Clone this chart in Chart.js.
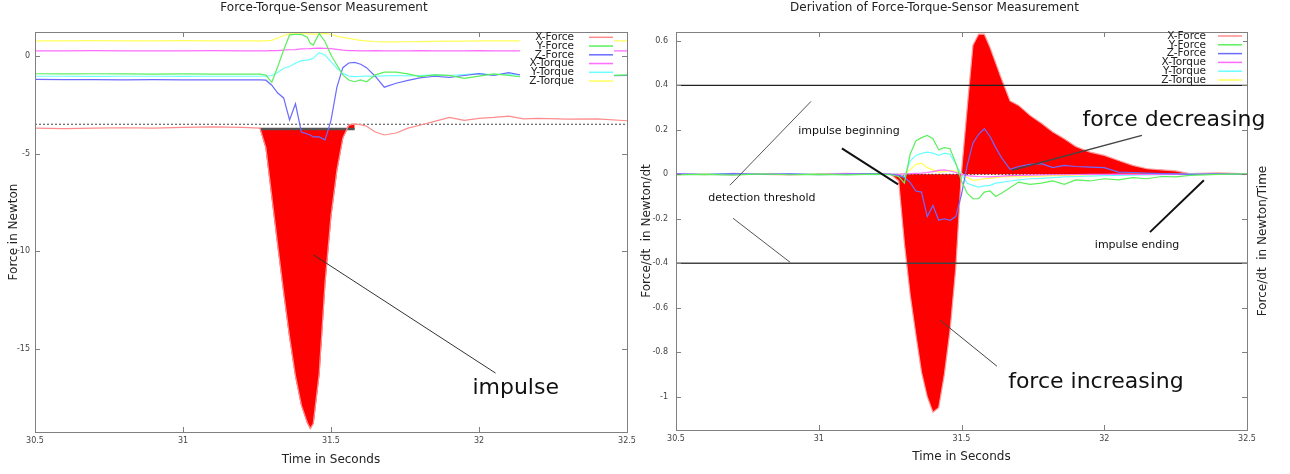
<!DOCTYPE html>
<html>
<head>
<meta charset="utf-8">
<script src="https://cdn.jsdelivr.net/npm/chart.js@4.4.1/dist/chart.umd.min.js"></script>
<style>
body { margin: 0; background: #fff; }
#wrap { position: relative; width: 1290px; height: 474px; }
canvas { position: absolute; top: 0; }
</style>
</head>
<body>
<div id="wrap">
<canvas id="left" width="640" height="474" style="left:0"></canvas>
<canvas id="right" width="650" height="474" style="left:640px"></canvas>
</div>
<script>
var seriesNames = ['X-Force', 'Y-Force', 'Z-Force', 'X-Torque', 'Y-Torque', 'Z-Torque'];
var seriesColors = ['#ff8c8c', '#5cf05c', '#6b6bff', '#ff6cff', '#6cffff', '#ffff5a'];

var xTicks = [30.5, 31, 31.5, 32, 32.5];
var yTicksLeft = [0, -5, -10, -15];
var yTicksRight = [0.6, 0.4, 0.2, 0, -0.2, -0.4, -0.6, -0.8, -1];

// raw sensor values (Newton)
var tLeft = [30.5, 30.6, 30.7, 30.8, 30.9, 31.0, 31.1, 31.2, 31.26, 31.28, 31.30, 31.32, 31.34, 31.36, 31.38, 31.40, 31.42, 31.43, 31.44,
  31.46, 31.48, 31.50, 31.52, 31.54, 31.56, 31.58, 31.60, 31.62, 31.65, 31.68, 31.72, 31.76, 31.80, 31.85, 31.90, 31.95, 32.0, 32.05,
  32.1, 32.15, 32.2, 32.3, 32.4, 32.5];
var xForce = [-3.70, -3.72, -3.70, -3.68, -3.70, -3.66, -3.63, -3.66, -3.70, -4.7, -7.2, -9.7, -12.1, -14.4, -16.4, -17.9, -18.8, -19.1, -18.85,
  -16.3, -11.6, -8.2, -5.85, -4.2, -3.55, -3.49, -3.52, -3.6, -3.9, -4.05, -3.95, -3.7, -3.55, -3.35, -3.15, -3.3, -3.2, -3.15,
  -3.08, -3.22, -3.2, -3.24, -3.22, -3.32];
var yForce = [-0.91, -0.92, -0.91, -0.92, -0.93, -0.92, -0.93, -0.93, -0.93, -0.98, -1.35, -0.55, 0.31, 1.08, 1.11, 1.11, 0.96, 0.65, 0.56,
  1.16, 0.73, 0.05, -0.46, -0.97, -1.23, -1.32, -1.23, -1.32, -0.97, -0.83, -0.83, -0.92, -1.06, -0.97, -0.99, -1.15, -1.03, -0.92,
  -0.99, -1.09, -1.03, -1.0, -1.02, -0.97];
var zForce = [-1.20, -1.21, -1.21, -1.22, -1.21, -1.22, -1.22, -1.22, -1.22, -1.24, -1.5, -1.9, -2.15, -3.28, -2.45, -3.9, -4.0, -4.05, -4.15,
  -4.15, -4.3, -3.3, -1.6, -0.6, -0.36, -0.33, -0.42, -0.6, -1.05, -1.6, -1.4, -1.25, -1.12, -1.04, -1.1, -1.0, -0.9, -1.0,
  -0.85, -1.0, -1.04, -1.0, -1.02, -1.0];
var xTorque = [0.26, 0.26, 0.27, 0.26, 0.26, 0.26, 0.27, 0.26, 0.26, 0.26, 0.27, 0.28, 0.30, 0.32, 0.33, 0.36, 0.37, 0.38, 0.39,
  0.40, 0.39, 0.38, 0.34, 0.30, 0.28, 0.27, 0.26, 0.26, 0.27, 0.26, 0.26, 0.26, 0.27, 0.26, 0.26, 0.26, 0.27, 0.26,
  0.26, 0.26, 0.27, 0.26, 0.26, 0.26];
var yTorque = [-1.04, -1.04, -1.05, -1.04, -1.04, -1.05, -1.04, -1.04, -1.04, -1.04, -1.0, -0.85, -0.63, -0.54, -0.37, -0.24, -0.21, -0.17, -0.12,
  0.17, 0.05, -0.29, -0.63, -0.89, -1.03, -1.06, -1.05, -1.03, -1.04, -1.02, -1.0, -1.02, -1.0, -0.97, -1.0, -0.95, -0.9, -0.97,
  -0.92, -1.0, -0.98, -1.0, -0.99, -1.0];
var zTorque = [0.78, 0.78, 0.79, 0.78, 0.78, 0.79, 0.78, 0.78, 0.78, 0.78, 0.80, 0.92, 1.05, 1.13, 1.14, 1.14, 1.14, 1.13, 1.12,
  1.12, 1.16, 1.10, 1.02, 0.95, 0.90, 0.85, 0.80, 0.77, 0.73, 0.72, 0.72, 0.73, 0.74, 0.75, 0.76, 0.76, 0.77, 0.77,
  0.78, 0.77, 0.78, 0.78, 0.78, 0.78];

var impulseStart = 31.26, impulseEnd = 31.58, impulseBase = -3.74, rawThreshold = -3.50;

// derivation (Newton/dt)
var tRight = [30.5, 30.6, 30.7, 30.8, 30.9, 31.0, 31.1, 31.2, 31.25, 31.28, 31.30, 31.32, 31.34, 31.36, 31.38, 31.40, 31.42, 31.44, 31.46,
  31.48, 31.50, 31.52, 31.54, 31.56, 31.58, 31.60, 31.62, 31.64, 31.67, 31.70, 31.74, 31.78, 31.82, 31.86, 31.90, 31.95, 32.0, 32.05,
  32.1, 32.15, 32.2, 32.25, 32.3, 32.4, 32.5];
var dxForce = [0.003, -0.002, 0.004, 0.0, -0.003, 0.002, 0.004, 0.0, 0.002, -0.03, -0.31, -0.54, -0.72, -0.89, -1.0, -1.07, -1.05, -0.9, -0.70,
  -0.42, 0.01, 0.30, 0.58, 0.63, 0.63, 0.57, 0.50, 0.43, 0.33, 0.31, 0.265, 0.23, 0.19, 0.16, 0.125, 0.10, 0.085, 0.062,
  0.04, 0.025, 0.02, 0.015, 0.003, 0.006, 0.002];
var dyForce = [-0.003, 0.0, -0.004, 0.002, -0.002, 0.0, -0.003, 0.001, -0.002, -0.01, -0.04, 0.09, 0.15, 0.165, 0.175, 0.16, 0.11, 0.12, 0.115,
  0.05, -0.03, -0.085, -0.11, -0.11, -0.08, -0.075, -0.1, -0.085, -0.06, -0.035, -0.045, -0.04, -0.03, -0.045, -0.025, -0.03, -0.02, -0.025,
  -0.015, -0.02, -0.01, -0.012, -0.005, 0.0, 0.002];
var dzForce = [0.002, -0.001, 0.003, 0.0, 0.002, -0.002, 0.001, 0.003, 0.0, -0.005, -0.015, -0.036, -0.075, -0.08, -0.19, -0.14, -0.207, -0.2, -0.207,
  -0.19, -0.09, 0.04, 0.14, 0.18, 0.205, 0.17, 0.12, 0.075, 0.022, 0.035, 0.045, 0.048, 0.03, 0.04, 0.035, 0.032, 0.03, 0.01,
  0.008, 0.005, 0.003, 0.002, 0.0, 0.002, 0.0];
var dxTorque = [0.001, 0.0, -0.002, 0.002, 0.0, -0.001, 0.002, 0.0, 0.001, 0.0, 0.002, 0.003, 0.004, 0.005, 0.008, 0.012, 0.018, 0.02, 0.015,
  0.008, 0.0, -0.006, -0.008, -0.01, -0.011, -0.012, -0.01, -0.008, -0.006, -0.005, -0.004, -0.003, -0.002, -0.002, -0.001, 0.0, 0.0, 0.001,
  0.0, 0.0, 0.001, 0.0, 0.0, 0.0, 0.0];
var dyTorque = [0.002, 0.0, 0.003, -0.001, 0.002, 0.0, 0.001, -0.002, 0.001, 0.0, -0.01, 0.06, 0.085, 0.094, 0.10, 0.095, 0.085, 0.095, 0.09,
  0.045, 0.0, -0.04, -0.05, -0.058, -0.052, -0.05, -0.04, -0.036, -0.03, -0.025, -0.02, -0.018, -0.015, -0.012, -0.01, -0.008, -0.006, -0.005,
  -0.004, -0.003, -0.002, 0.0, 0.001, 0.0, 0.0];
var dzTorque = [0.0, 0.001, -0.001, 0.0, 0.002, 0.0, -0.001, 0.001, 0.0, 0.0, 0.0, 0.02, 0.045, 0.05, 0.03, 0.02, 0.01, 0.012, 0.018,
  0.015, 0.005, -0.015, -0.027, -0.025, -0.02, -0.018, -0.015, -0.012, -0.01, -0.012, -0.01, -0.008, -0.006, -0.005, -0.004, -0.003, -0.002, -0.001,
  0.0, 0.0, 0.0, 0.0, 0.0, 0.0, 0.0];

var threshold = 0.4;

var tickFont = { family: 'DejaVu Sans', size: 8 };
var titleFont = { family: 'DejaVu Sans', size: 12 };

function pts(t, v) {
  return t.map(function (x, i) { return { x: x, y: v[i] }; });
}

function series(t, cols) {
  return cols.map(function (v, i) {
    return { label: seriesNames[i], data: pts(t, v), borderColor: seriesColors[i], borderWidth: 1.2,
      pointRadius: 0, fill: false, order: i + 1 };
  });
}

function hline(y, x0, x1, color, width, dash, order) {
  return { label: '', data: [{ x: x0, y: y }, { x: x1, y: y }], borderColor: color, borderWidth: width,
    borderDash: dash || [], pointRadius: 0, fill: false, order: order };
}

function line(ctx, x0, y0, x1, y1) {
  ctx.beginPath(); ctx.moveTo(x0, y0); ctx.lineTo(x1, y1); ctx.stroke();
}

// frame with inward ticks, notes, opaque key and titles, gnuplot style
function decor(o) {
  return {
    id: 'decor',
    afterDraw: function (chart) {
      var ctx = chart.ctx, a = chart.chartArea, sx = chart.scales.x, sy = chart.scales.y;
      ctx.save();
      ctx.strokeStyle = '#808080'; ctx.lineWidth = 1;
      ctx.strokeRect(Math.round(a.left) + 0.5, Math.round(a.top) + 0.5, Math.round(a.right - a.left), Math.round(a.bottom - a.top));
      xTicks.forEach(function (v) {
        var px = Math.round(sx.getPixelForValue(v)) + 0.5;
        line(ctx, px, a.bottom, px, a.bottom - 5);
        line(ctx, px, a.top, px, a.top + 5);
      });
      o.yTicks.forEach(function (v) {
        var py = Math.round(sy.getPixelForValue(v)) + 0.5;
        line(ctx, a.left, py, a.left + 5, py);
        line(ctx, a.right, py, a.right - 5, py);
      });

      o.marks.forEach(function (m) {
        ctx.strokeStyle = m.color; ctx.lineWidth = m.width;
        line(ctx, sx.getPixelForValue(m.from[0]), sy.getPixelForValue(m.from[1]),
          sx.getPixelForValue(m.to[0]), sy.getPixelForValue(m.to[1]));
      });
      ctx.fillStyle = '#111'; ctx.textAlign = 'center'; ctx.textBaseline = 'middle';
      o.notes.forEach(function (n) {
        ctx.font = n.size + 'px "DejaVu Sans"';
        ctx.fillText(n.text, sx.getPixelForValue(n.at[0]), sy.getPixelForValue(n.at[1]));
      });

      // key
      var k = o.key;
      ctx.fillStyle = '#fff';
      ctx.fillRect(a.right - k.boxLeft, a.top + 1, k.boxLeft - k.boxRight, k.top + k.step * 5 + 3);
      ctx.font = '10.5px "DejaVu Sans"';
      ctx.textAlign = 'right';
      seriesNames.forEach(function (n, i) {
        var y = a.top + k.top + i * k.step;
        ctx.fillStyle = '#222';
        ctx.fillText(n, a.right - k.textRight, y);
        ctx.strokeStyle = seriesColors[i]; ctx.lineWidth = 1.5;
        line(ctx, a.right - k.sampleLeft, y, a.right - k.sampleRight, y);
      });

      ctx.textAlign = 'center';
      ctx.fillStyle = '#222';
      ctx.font = '12px "DejaVu Sans"';
      ctx.fillText(o.title, (a.left + a.right) / 2 + o.titleShift, 8);
      if (o.rightTitle) {
        ctx.translate(a.right + 16, (a.top + a.bottom) / 2 + 10);
        ctx.rotate(-Math.PI / 2);
        ctx.fillText(o.rightTitle, 0, 0);
      }
      ctx.restore();
    }
  };
}

function makeScales(o) {
  return {
    x: {
      type: 'linear', min: 30.5, max: 32.5,
      afterBuildTicks: function (s) { s.ticks = xTicks.map(function (v) { return { value: v }; }); },
      afterFit: function (s) { s.height = o.xHeight; },
      grid: { display: false, drawTicks: false },
      border: { display: false },
      ticks: { autoSkip: false, maxRotation: 0, padding: 4, color: '#444', font: tickFont,
        callback: function (v) { return String(v); } },
      title: { display: true, text: 'Time in Seconds', color: '#222', font: titleFont, padding: { top: 0, bottom: o.xTitlePad } }
    },
    y: {
      type: 'linear', min: o.yMin, max: o.yMax,
      afterBuildTicks: function (s) { s.ticks = o.yTicks.map(function (v) { return { value: v }; }); },
      afterFit: function (s) { s.width = o.yWidth; },
      grid: { display: false, drawTicks: false },
      border: { display: false },
      ticks: { autoSkip: false, padding: o.yTickPad, color: '#444', font: tickFont,
        callback: function (v) { return String(v); } },
      title: { display: true, text: o.yTitle, color: '#222', font: titleFont, padding: { top: o.yTitlePad, bottom: 0 } }
    }
  };
}

var baseOptions = function (o) {
  return {
    responsive: false, animation: false, devicePixelRatio: 1,
    layout: { padding: { top: 32, right: o.padRight, left: 0, bottom: 0 } },
    plugins: { legend: { display: false }, tooltip: { enabled: false }, title: { display: false } },
    elements: { point: { radius: 0 }, line: { tension: 0 } },
    scales: makeScales(o)
  };
};

// left chart: raw measurement
var leftSeries = series(tLeft, [xForce, yForce, zForce, xTorque, yTorque, zTorque]);
var impulsePts = pts(tLeft, xForce).filter(function (p) { return p.x >= impulseStart && p.x <= impulseEnd; });
var leftData = [
  { label: '', data: impulsePts, fill: { value: impulseBase }, backgroundColor: '#ff0000', borderColor: '#ff2020',
    borderWidth: 1, pointRadius: 0, order: 20 },
  hline(impulseBase, impulseStart, impulseEnd, '#555', 2.5, null, 15),
  hline(rawThreshold, 30.5, 32.5, '#444', 1, [2, 2], 16)
].concat(leftSeries);

var leftOpts = { xHeight: 42, xTitlePad: 7, yMin: -19.28, yMax: 1.23, yTicks: yTicksLeft, yWidth: 35, yTickPad: 5,
  yTitle: 'Force in Newton', yTitlePad: 7, padRight: 13 };

new Chart(document.getElementById('left'), {
  type: 'line',
  data: { datasets: leftData },
  options: baseOptions(leftOpts),
  plugins: [decor({
    yTicks: yTicksLeft, title: 'Force-Torque-Sensor Measurement', titleShift: -7,
    key: { top: 5.3, step: 8.75, textRight: 53, sampleLeft: 38, sampleRight: 14, boxLeft: 107, boxRight: 13 },
    notes: [{ text: 'impulse', at: [32.124, -17.03], size: 22 }],
    marks: [{ from: [31.441, -10.2], to: [32.056, -16.26], color: '#333', width: 1 }]
  })]
});

// right chart: derivation
var rightSeries = series(tRight, [dxForce, dyForce, dzForce, dxTorque, dyTorque, dzTorque]);
rightSeries[0].fill = { value: 0 };
rightSeries[0].backgroundColor = '#ff0000';
rightSeries[0].borderColor = '#ff9a9a';
rightSeries[0].order = 20;
var rightData = rightSeries.concat([
  hline(threshold, 30.5, 32.5, '#222', 1.4, null, 12),
  hline(-threshold, 30.5, 32.5, '#444', 1.6, null, 12),
  hline(0, 30.5, 32.5, '#333', 1, [1.5, 2], 11)
]);

var rightOpts = { xHeight: 44, xTitlePad: 10, yMin: -1.15, yMax: 0.64, yTicks: yTicksRight, yWidth: 36, yTickPad: 8,
  yTitle: 'Force/dt  in Newton/dt', yTitlePad: 0, padRight: 43 };

new Chart(document.getElementById('right'), {
  type: 'line',
  data: { datasets: rightData },
  options: baseOptions(rightOpts),
  plugins: [decor({
    yTicks: yTicksRight, title: 'Derivation of Force-Torque-Sensor Measurement', titleShift: -27,
    rightTitle: 'Force/dt  in Newton/Time',
    key: { top: 4, step: 8.8, textRight: 41, sampleLeft: 29, sampleRight: 5, boxLeft: 92, boxRight: 4 },
    notes: [
      { text: 'force decreasing', at: [32.244, 0.243], size: 22 },
      { text: 'force increasing', at: [31.971, -0.935], size: 22 },
      { text: 'impulse beginning', at: [31.106, 0.193], size: 11 },
      { text: 'detection threshold', at: [30.801, -0.108], size: 11 },
      { text: 'impulse ending', at: [32.115, -0.319], size: 11 }
    ],
    marks: [
      { from: [31.677, 0.018], to: [32.132, 0.175], color: '#444', width: 1.5 },
      { from: [31.425, -0.656], to: [31.624, -0.863], color: '#444', width: 1 },
      { from: [31.081, 0.117], to: [31.278, -0.045], color: '#111', width: 2 },
      { from: [30.689, -0.049], to: [30.973, 0.328], color: '#555', width: 1 },
      { from: [30.70, -0.198], to: [30.90, -0.396], color: '#555', width: 1 },
      { from: [32.16, -0.26], to: [32.349, -0.027], color: '#111', width: 2 }
    ]
  })]
});
</script>
</body>
</html>
